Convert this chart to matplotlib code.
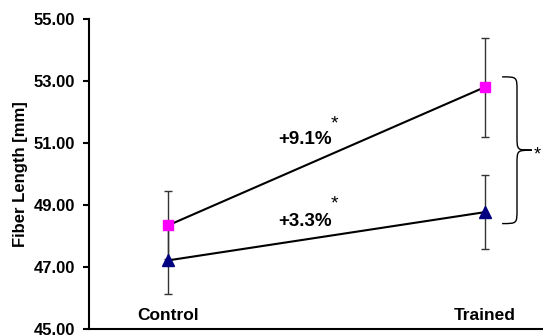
#!/usr/bin/env python3
# -*- coding: utf-8 -*-
'''
Fiber length before and after training, two groups with error bars.
'''

import matplotlib
matplotlib.use('Agg')
import matplotlib.pyplot as plt
from matplotlib.path import Path
from matplotlib.patches import PathPatch

plt.rcParams['font.family'] = ['Liberation Sans', 'DejaVu Sans']

# Data
groups = ['Control', 'Trained']
mean_pink = [48.33, 52.80]
err_pink = [1.10, 1.60]
mean_navy = [47.20, 48.76]
err_navy = [1.10, 1.20]
pct_labels = ['+9.1%', '+3.3%']
yticks = [45.0, 47.0, 49.0, 51.0, 53.0, 55.0]


def brace(ax, x0, x1, xtip, ytop, ybot, r):
    '''Curly bracket opening to the left, tip pointing right.'''
    ymid = (ytop + ybot) / 2.0
    verts = [
        (x0, ytop),
        (x1, ytop), (x1, ytop), (x1, ytop - r),
        (x1, ymid + r),
        (x1, ymid), (x1, ymid), (xtip, ymid),
        (x1, ymid), (x1, ymid), (x1, ymid - r),
        (x1, ybot + r),
        (x1, ybot), (x1, ybot), (x0, ybot),
    ]
    codes = [Path.MOVETO,
             Path.CURVE4, Path.CURVE4, Path.CURVE4,
             Path.LINETO,
             Path.CURVE4, Path.CURVE4, Path.CURVE4,
             Path.CURVE4, Path.CURVE4, Path.CURVE4,
             Path.LINETO,
             Path.CURVE4, Path.CURVE4, Path.CURVE4]
    patch = PathPatch(Path(verts, codes), facecolor='none',
                      edgecolor='black', lw=1.0, clip_on=False)
    ax.add_patch(patch)
    return ymid


fig = plt.figure(figsize=(5.43, 3.35), dpi=100)
ax = fig.add_axes([0.1639, 0.0194, 0.8361, 0.9239])

xpos = list(range(len(groups)))

# error bars first so the markers sit on top
ax.errorbar(xpos, mean_pink, yerr=err_pink, fmt='none', ecolor='#333333',
            elinewidth=1.0, capsize=3, capthick=1.0, zorder=2)
ax.errorbar(xpos, mean_navy, yerr=err_navy, fmt='none', ecolor='#333333',
            elinewidth=1.0, capsize=3, capthick=1.0, zorder=2)

ax.plot(xpos, mean_pink, color='black', lw=1.5, marker='s', ms=7,
        mfc='#FF00FF', mec='#FF00FF', zorder=3)
ax.plot(xpos, mean_navy, color='black', lw=1.5, marker='^', ms=9,
        mfc='#000080', mec='#000080', zorder=3)

# percent change labels with significance stars
ax.text(0.431, 51.11, pct_labels[0], ha='center', va='center',
        fontsize=13.5, fontweight='bold')
ax.text(0.526, 51.60, '*', ha='center', va='center', fontsize=14)
ax.text(0.431, 48.47, pct_labels[1], ha='center', va='center',
        fontsize=13.5, fontweight='bold')
ax.text(0.526, 49.01, '*', ha='center', va='center', fontsize=14)

# bracket between the trained groups
ymid = brace(ax, 1.054, 1.101, 1.148, 53.13, 48.39, 0.45)
ax.text(1.166, ymid - 0.15, '*', ha='center', va='center', fontsize=13,
        clip_on=False)

ax.set_xlim(-0.249, 1.183)
ax.set_ylim(45.0, 55.0)
ax.set_yticks(yticks)
ax.set_yticklabels(['{:.2f}'.format(v) for v in yticks],
                   fontsize=12, fontweight='bold')
ax.set_xticks(xpos)
ax.set_xticklabels(groups, fontsize=12.5, fontweight='bold')
ax.tick_params(axis='x', length=0, pad=-15)
ax.tick_params(axis='y', direction='out', length=4, width=1.5, pad=6)
ax.set_ylabel('Fiber Length [mm]', fontsize=12, fontweight='bold',
              labelpad=4)

for side in ('top', 'right'):
    ax.spines[side].set_visible(False)
for side in ('left', 'bottom'):
    ax.spines[side].set_linewidth(1.5)

fig.savefig('out.png', dpi=100)
